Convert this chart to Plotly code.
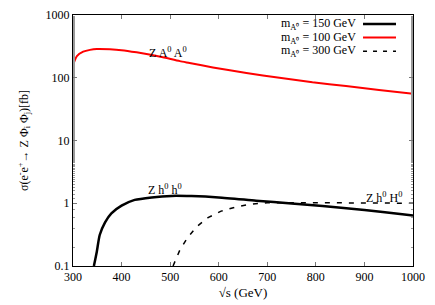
import plotly.graph_objects as go

# --- data ---
s_red = [300, 308, 321, 335, 349, 376, 400, 431, 460, 485, 520, 540, 588, 657, 725, 793, 862, 930, 1000]
v_red = [160, 222, 260, 278, 287, 284, 275, 254, 232, 212, 184, 172, 146, 119, 100, 84.5, 74, 64, 55.5]

s_black = [343, 349, 355, 366, 379, 400, 427, 462, 503, 544, 600, 677, 750, 814, 900, 978, 1000]
v_black = [0.1, 0.169, 0.312, 0.497, 0.69, 0.915, 1.13, 1.24, 1.31, 1.30, 1.24, 1.10, 0.99, 0.90, 0.78, 0.667, 0.64]

s_dash = [506, 520, 535, 554, 578, 605, 633, 663, 700, 750, 800, 900, 1000]
v_dash = [0.1, 0.18, 0.276, 0.42, 0.59, 0.75, 0.86, 0.96, 1.02, 1.03, 1.02, 1.01, 1.0]

legend_labels = ["m<sub>A⁰</sub> = 150 GeV",
                 "m<sub>A⁰</sub> = 100 GeV",
                 "m<sub>A⁰</sub> = 300 GeV"]
y_tickvals = [0.1, 1, 10, 100, 1000]
y_ticktext = ["0.1", "1", "10", "100", "1000"]
x_tickvals = [300, 400, 500, 600, 700, 800, 900, 1000]

FONT = "Liberation Serif"

fig = go.Figure()
fig.add_trace(go.Scatter(x=s_black, y=v_black, mode="lines", line_shape="spline",
                         line=dict(color="black", width=2.5, smoothing=0.6), showlegend=False))
fig.add_trace(go.Scatter(x=s_red, y=v_red, mode="lines", line_shape="spline",
                         line=dict(color="#ff0000", width=2, smoothing=0.6), showlegend=False))
fig.add_trace(go.Scatter(x=s_dash, y=v_dash, mode="lines",
                         line=dict(color="black", width=1.5, dash="5px,7px"), showlegend=False))

# legend (gnuplot style: text then sample on the right)
leg_y = [0.964, 0.910, 0.856]
leg_styles = [dict(color="black", width=2.5), dict(color="#ff0000", width=2),
              dict(color="black", width=1.5, dash="4px,6px")]
for lab, yy, st in zip(legend_labels, leg_y, leg_styles):
    fig.add_annotation(x=0.838, y=yy, xref="paper", yref="paper", text=lab,
                       showarrow=False, xanchor="right", yanchor="middle", height=12,
                       font=dict(family=FONT, size=12, color="black"))
    fig.add_shape(type="line", xref="paper", yref="paper", x0=0.853, x1=0.95,
                  y0=yy, y1=yy, line=st)

# curve labels
fig.add_annotation(x=496, y=2.41, text="Z A<sup>0</sup> A<sup>0</sup>", showarrow=False,
                   font=dict(family=FONT, size=12, color="black"))
fig.add_annotation(x=489, y=0.227, text="Z h<sup>0</sup> h<sup>0</sup>", showarrow=False,
                   font=dict(family=FONT, size=12, color="black"))
fig.add_annotation(x=940, y=0.084, text="Z h<sup>0</sup> H<sup>0</sup>", showarrow=False,
                   font=dict(family=FONT, size=12, color="black"))

fig.update_layout(
    width=435, height=305,
    margin=dict(l=73, r=22, t=15, b=39),
    plot_bgcolor="white", paper_bgcolor="white",
    font=dict(family=FONT, size=12, color="black"),
    showlegend=False,
)
fig.update_xaxes(range=[300, 1000], tickvals=x_tickvals, ticks="inside", ticklen=4,
                 tickcolor="#777", showline=True, linecolor="black", linewidth=1,
                 mirror="allticks", showgrid=False, zeroline=False, automargin=False,
                 title=dict(text="√s (GeV)", font=dict(family=FONT, size=13), standoff=4),
                 tickfont=dict(family=FONT, size=12))
fig.update_yaxes(type="log", range=[-1, 3], tickvals=y_tickvals, ticktext=y_ticktext,
                 ticks="inside", ticklen=4, tickcolor="#777", showline=True,
                 linecolor="black", linewidth=1, mirror="allticks", showgrid=False,
                 zeroline=False, automargin=False,
                 minor=dict(ticks="inside", ticklen=2, tickcolor="#999", showgrid=False),
                 title=dict(text="σ(e<sup>-</sup>e<sup>+</sup>→ Z Φ<sub>i</sub> Φ<sub>j</sub>)[fb]",
                            font=dict(family=FONT, size=12), standoff=14),
                 tickfont=dict(family=FONT, size=12))

fig.write_html("out.html", config={"displayModeBar": False},
               post_script="document.body.style.margin='0';document.body.style.padding='0';")
